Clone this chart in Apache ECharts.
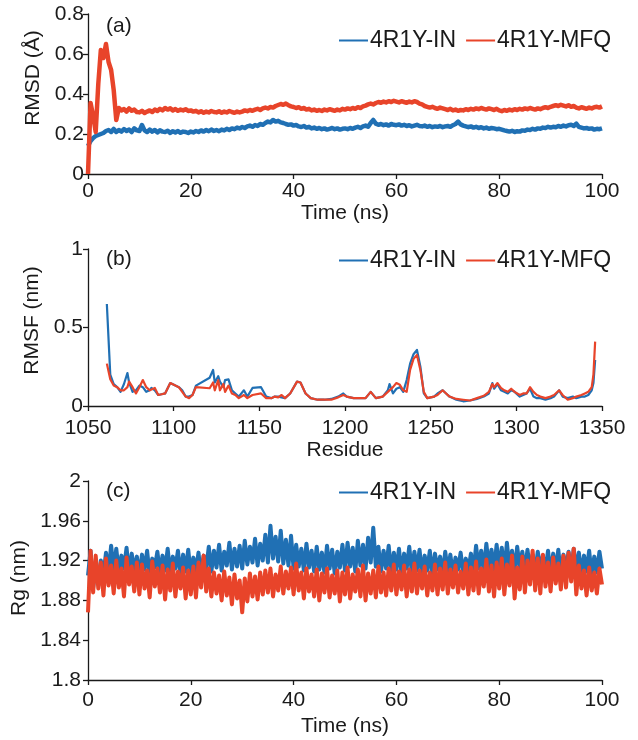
<!DOCTYPE html>
<html>
<head>
<meta charset="utf-8">
<script src="https://cdn.jsdelivr.net/npm/echarts@6/dist/echarts.min.js"></script>
<style>html,body{margin:0;padding:0;background:#fff}#c{width:638px;height:740px}</style>
</head>
<body>
<div id="c"></div>
<script>
// ---------- data ----------
const seriesNames = ['4R1Y-IN', '4R1Y-MFQ'];
const timeStep = 0.5; // ns between samples for RMSD and Rg

const rmsdIN = [
0.140,0.165,0.180,0.190,0.195,0.200,0.205,0.215,0.220,0.210,
0.225,0.210,0.220,0.212,0.225,0.215,0.222,0.210,0.228,0.218,
0.215,0.245,0.218,0.210,0.222,0.212,0.220,0.208,0.218,0.212,
0.210,0.216,0.205,0.214,0.208,0.215,0.206,0.212,0.210,0.205,
0.212,0.208,0.215,0.210,0.218,0.212,0.220,0.214,0.222,0.215,
0.220,0.214,0.222,0.218,0.226,0.220,0.228,0.224,0.232,0.228,
0.235,0.230,0.238,0.242,0.236,0.245,0.240,0.250,0.246,0.255,
0.262,0.258,0.270,0.262,0.266,0.258,0.255,0.250,0.246,0.248,
0.242,0.245,0.238,0.235,0.240,0.232,0.236,0.228,0.232,0.226,
0.230,0.224,0.228,0.222,0.226,0.230,0.224,0.228,0.222,0.226,
0.228,0.224,0.230,0.226,0.232,0.236,0.230,0.238,0.242,0.236,
0.255,0.270,0.252,0.246,0.250,0.244,0.248,0.242,0.250,0.246,
0.244,0.248,0.242,0.246,0.240,0.244,0.238,0.242,0.246,0.240,
0.238,0.242,0.236,0.240,0.234,0.238,0.236,0.240,0.234,0.238,
0.240,0.236,0.244,0.250,0.262,0.248,0.242,0.238,0.234,0.238,
0.232,0.236,0.230,0.234,0.228,0.232,0.226,0.230,0.228,0.224,
0.226,0.222,0.218,0.215,0.212,0.216,0.210,0.214,0.212,0.218,
0.216,0.222,0.220,0.226,0.222,0.228,0.226,0.232,0.230,0.236,
0.232,0.236,0.234,0.240,0.236,0.242,0.238,0.244,0.246,0.240,
0.252,0.236,0.232,0.228,0.230,0.226,0.228,0.222,0.226,0.224,
0.228];

const rmsdMFQ = [
0.000,0.355,0.290,0.210,0.450,0.620,0.580,0.650,0.560,0.520,
0.420,0.270,0.330,0.318,0.325,0.312,0.328,0.316,0.322,0.310,
0.308,0.316,0.305,0.312,0.318,0.310,0.322,0.315,0.326,0.318,
0.330,0.322,0.328,0.318,0.325,0.316,0.322,0.318,0.324,0.315,
0.318,0.312,0.316,0.308,0.314,0.306,0.312,0.308,0.315,0.310,
0.308,0.314,0.306,0.312,0.308,0.315,0.310,0.306,0.312,0.308,
0.312,0.318,0.314,0.320,0.316,0.322,0.326,0.320,0.328,0.332,
0.328,0.335,0.332,0.340,0.345,0.350,0.346,0.352,0.344,0.338,
0.335,0.330,0.334,0.326,0.330,0.322,0.326,0.318,0.322,0.316,
0.320,0.315,0.322,0.318,0.324,0.320,0.316,0.322,0.318,0.326,
0.322,0.328,0.324,0.330,0.326,0.334,0.330,0.338,0.342,0.348,
0.352,0.348,0.355,0.360,0.356,0.362,0.358,0.364,0.360,0.366,
0.362,0.358,0.364,0.360,0.356,0.362,0.358,0.364,0.360,0.352,
0.348,0.340,0.336,0.332,0.336,0.330,0.326,0.332,0.328,0.324,
0.320,0.326,0.318,0.322,0.316,0.320,0.318,0.324,0.320,0.326,
0.322,0.328,0.324,0.330,0.326,0.322,0.328,0.324,0.320,0.326,
0.318,0.314,0.320,0.316,0.322,0.318,0.324,0.320,0.326,0.322,
0.328,0.324,0.330,0.326,0.322,0.328,0.324,0.330,0.334,0.330,
0.336,0.340,0.344,0.340,0.346,0.342,0.338,0.344,0.336,0.340,
0.332,0.328,0.334,0.330,0.326,0.332,0.328,0.334,0.336,0.332,
0.338];

const residues = [
1061,1063,1065,1067,1069,1071,1073,1074,1076,1078,1080,1082,1084,1086,1087,1089,1091,1093,1095,1098,
1101,1103,1105,1107,1109,1111,1113,1121,1123,1124,1126,1127,1129,1130,1132,1134,1136,1138,1141,1143,
1146,1151,1154,1157,1159,1161,1163,1165,1168,1172,1174,1177,1180,1184,1188,1192,1196,1199,1201,1205,
1209,1212,1215,1218,1222,1225,1226,1228,1230,1232,1234,1236,1238,1240,1242,1244,1246,1248,1252,1254,
1257,1259,1261,1265,1269,1273,1277,1281,1284,1286,1287,1289,1291,1293,1295,1297,1299,1302,1304,1306,
1308,1310,1312,1314,1317,1320,1322,1325,1327,1330,1333,1335,1338,1340,1342,1344,1345,1346];

const rmsfIN = [
0.650,0.200,0.140,0.120,0.090,0.140,0.210,0.150,0.090,0.100,0.130,0.120,0.090,0.100,0.115,0.100,0.070,0.075,0.080,0.146,
0.130,0.120,0.100,0.060,0.060,0.070,0.130,0.180,0.230,0.150,0.190,0.155,0.120,0.165,0.170,0.100,0.080,0.060,0.100,0.060,
0.115,0.120,0.060,0.050,0.060,0.060,0.055,0.050,0.080,0.155,0.150,0.080,0.050,0.040,0.040,0.045,0.060,0.080,0.060,0.050,
0.050,0.050,0.090,0.050,0.060,0.100,0.140,0.080,0.110,0.120,0.090,0.165,0.270,0.330,0.357,0.250,0.080,0.050,0.060,0.080,
0.100,0.080,0.060,0.040,0.030,0.035,0.045,0.060,0.080,0.146,0.110,0.140,0.100,0.090,0.080,0.100,0.090,0.060,0.070,0.080,
0.110,0.060,0.050,0.050,0.040,0.050,0.060,0.100,0.060,0.050,0.060,0.050,0.060,0.060,0.070,0.100,0.146,0.293];

const rmsfMFQ = [
0.270,0.170,0.130,0.120,0.100,0.100,0.120,0.155,0.120,0.080,0.120,0.165,0.120,0.100,0.090,0.115,0.070,0.075,0.080,0.146,
0.130,0.120,0.090,0.060,0.050,0.070,0.120,0.113,0.150,0.100,0.165,0.100,0.140,0.090,0.130,0.080,0.070,0.050,0.070,0.050,
0.070,0.080,0.050,0.050,0.060,0.055,0.070,0.050,0.080,0.155,0.150,0.080,0.050,0.040,0.040,0.040,0.055,0.070,0.060,0.050,
0.050,0.050,0.090,0.050,0.060,0.090,0.090,0.120,0.146,0.135,0.100,0.090,0.230,0.300,0.325,0.230,0.090,0.050,0.060,0.070,
0.100,0.080,0.060,0.045,0.040,0.035,0.050,0.065,0.090,0.140,0.120,0.146,0.115,0.100,0.090,0.110,0.090,0.070,0.080,0.080,
0.120,0.090,0.070,0.060,0.050,0.060,0.070,0.100,0.070,0.040,0.050,0.060,0.070,0.080,0.090,0.120,0.200,0.410];

const rgIN = [
1.905,1.930,1.893,1.915,1.898,1.920,1.905,1.928,1.908,1.935,
1.910,1.932,1.908,1.925,1.912,1.933,1.906,1.927,1.910,1.924,
1.904,1.926,1.911,1.930,1.905,1.922,1.913,1.929,1.907,1.925,
1.910,1.932,1.906,1.924,1.912,1.930,1.905,1.926,1.909,1.931,
1.906,1.923,1.910,1.928,1.904,1.925,1.912,1.934,1.909,1.930,
1.913,1.936,1.910,1.929,1.915,1.938,1.911,1.932,1.914,1.935,
1.912,1.940,1.916,1.934,1.918,1.942,1.915,1.937,1.920,1.946,
1.918,1.955,1.922,1.944,1.919,1.950,1.917,1.941,1.915,1.945,
1.912,1.936,1.914,1.932,1.910,1.937,1.913,1.930,1.909,1.934,
1.911,1.928,1.908,1.935,1.912,1.931,1.907,1.929,1.913,1.936,
1.910,1.938,1.914,1.933,1.909,1.940,1.915,1.936,1.912,1.943,
1.918,1.953,1.914,1.934,1.909,1.930,1.912,1.935,1.907,1.928,
1.911,1.932,1.906,1.927,1.912,1.934,1.908,1.929,1.910,1.931,
1.906,1.925,1.910,1.930,1.905,1.927,1.911,1.924,1.906,1.929,
1.909,1.926,1.905,1.923,1.911,1.928,1.907,1.922,1.910,1.927,
1.908,1.935,1.912,1.930,1.909,1.937,1.913,1.931,1.910,1.936,
1.911,1.933,1.908,1.938,1.912,1.930,1.909,1.934,1.913,1.929,
1.908,1.931,1.911,1.926,1.907,1.929,1.912,1.925,1.909,1.930,
1.906,1.927,1.910,1.931,1.905,1.926,1.911,1.929,1.908,1.932,
1.910,1.928,1.906,1.925,1.909,1.930,1.905,1.924,1.908,1.929,
1.912];

const rgMFQ = [
1.868,1.930,1.888,1.925,1.892,1.918,1.885,1.922,1.895,1.915,
1.887,1.920,1.893,1.912,1.884,1.923,1.896,1.914,1.889,1.918,
1.886,1.916,1.892,1.910,1.883,1.919,1.894,1.912,1.888,1.915,
1.881,1.911,1.890,1.917,1.884,1.909,1.892,1.913,1.882,1.910,
1.886,1.914,1.883,1.918,1.893,1.925,1.889,1.912,1.884,1.908,
1.887,1.905,1.880,1.909,1.885,1.903,1.876,1.906,1.882,1.900,
1.868,1.902,1.879,1.907,1.884,1.904,1.881,1.908,1.886,1.910,
1.888,1.912,1.884,1.906,1.890,1.914,1.887,1.909,1.892,1.913,
1.886,1.917,1.890,1.908,1.882,1.912,1.889,1.906,1.884,1.911,
1.880,1.907,1.888,1.912,1.883,1.905,1.887,1.910,1.879,1.908,
1.886,1.913,1.882,1.906,1.889,1.911,1.884,1.915,1.880,1.907,
1.887,1.910,1.883,1.914,1.888,1.908,1.885,1.912,1.890,1.916,
1.886,1.909,1.891,1.915,1.884,1.911,1.889,1.917,1.887,1.910,
1.892,1.914,1.885,1.908,1.890,1.916,1.886,1.912,1.891,1.918,
1.887,1.911,1.893,1.915,1.888,1.909,1.892,1.917,1.886,1.913,
1.890,1.919,1.887,1.912,1.894,1.921,1.889,1.915,1.884,1.918,
1.892,1.922,1.886,1.916,1.895,1.925,1.882,1.913,1.891,1.924,
1.888,1.920,1.896,1.930,1.890,1.922,1.887,1.926,1.894,1.918,
1.889,1.923,1.897,1.917,1.891,1.925,1.893,1.928,1.899,1.932,
1.886,1.915,1.892,1.910,1.885,1.913,1.890,1.908,1.887,1.912,
1.896];

// ---------- chart ----------
const BLUE = '#2070b4', RED = '#e8442a';
const FONT = 'Liberation Sans, Arial, sans-serif';
const TXT = '#1a1a1a';
const timed = arr => arr.map((v, i) => [i * timeStep, v]);
const byRes = arr => arr.map((v, i) => [residues[i], v]);

const axisLine = { show: true, lineStyle: { color: '#1a1a1a', width: 1.3 } };
const axisTick = { show: true, length: 5, lineStyle: { color: '#1a1a1a', width: 1.3 } };
const lbl = (margin, fmt) => ({ color: TXT, fontFamily: FONT, fontSize: 21, margin: margin, formatter: fmt });
const nameStyle = (pad) => ({ color: TXT, fontFamily: FONT, fontSize: 21, padding: pad || 0 });
const plain = v => String(v);

const grids = [
  { left: 88, width: 514, top: 14, height: 160 },
  { left: 88, width: 514, top: 249, height: 157 },
  { left: 88, width: 514, top: 481, height: 199 }
];

const xAxes = [
  { gridIndex: 0, type: 'value', min: 0, max: 100, interval: 20, name: 'Time (ns)', nameLocation: 'middle', nameGap: 26,
    axisLine, axisTick, axisLabel: lbl(7, plain), splitLine: { show: false }, nameTextStyle: nameStyle() },
  { gridIndex: 1, type: 'value', min: 1050, max: 1350, interval: 50, name: 'Residue', nameLocation: 'middle', nameGap: 34,
    axisLine, axisTick, axisLabel: lbl(12, plain), splitLine: { show: false }, nameTextStyle: nameStyle() },
  { gridIndex: 2, type: 'value', min: 0, max: 100, interval: 20, name: 'Time (ns)', nameLocation: 'middle', nameGap: 36,
    axisLine, axisTick, axisLabel: lbl(10, plain), splitLine: { show: false }, nameTextStyle: nameStyle() }
];

const yAxes = [
  { gridIndex: 0, type: 'value', min: 0, max: 0.8, interval: 0.2, name: 'RMSD (Å)', nameLocation: 'middle', nameGap: 43,
    axisLine, axisTick, axisLabel: lbl(4, v => String(+v.toFixed(1))), splitLine: { show: false }, nameTextStyle: nameStyle([0, 0, 0, 32]) },
  { gridIndex: 1, type: 'value', min: 0, max: 1, interval: 0.5, name: 'RMSF (nm)', nameLocation: 'middle', nameGap: 43,
    axisLine, axisTick, axisLabel: lbl(5, v => String(+v.toFixed(1))), splitLine: { show: false }, nameTextStyle: nameStyle([0, 0, 0, 14]) },
  { gridIndex: 2, type: 'value', min: 1.8, max: 2, interval: 0.04, name: 'Rg (nm)', nameLocation: 'middle', nameGap: 50,
    axisLine, axisTick, axisLabel: lbl(7, v => String(+v.toFixed(2))), splitLine: { show: false }, nameTextStyle: nameStyle([0, 0, 0, 5]) }
];

const line = (name, idx, data, color, width) => ({
  name, type: 'line', xAxisIndex: idx, yAxisIndex: idx, data, showSymbol: false, symbol: 'none',
  animation: false, lineStyle: { color, width, join: 'round' }, itemStyle: { color }
});

const legendAt = top => ({
  data: seriesNames, left: 334, top, icon: 'rect', itemWidth: 29, itemHeight: 2, itemGap: 10,
  textStyle: { color: TXT, fontFamily: FONT, fontSize: 23, padding: [0, 0, 0, -3] }, selectedMode: false
});

const titleAt = (text, top) => ({ text, left: 101, top, textStyle: { color: TXT, fontFamily: FONT, fontSize: 21, fontWeight: 'normal' } });

const chart = echarts.init(document.getElementById('c'), null, { renderer: 'canvas' });
chart.setOption({
  backgroundColor: '#fff',
  animation: false,
  title: [titleAt('(a)', 11), titleAt('(b)', 244), titleAt('(c)', 476)],
  legend: [legendAt(24), legendAt(244), legendAt(476)],
  grid: grids,
  xAxis: xAxes,
  yAxis: yAxes,
  series: [
    line(seriesNames[0], 0, timed(rmsdIN), BLUE, 4.5),
    line(seriesNames[1], 0, timed(rmsdMFQ), RED, 4.5),
    line(seriesNames[0], 1, byRes(rmsfIN), BLUE, 2.2),
    line(seriesNames[1], 1, byRes(rmsfMFQ), RED, 2.2),
    line(seriesNames[0], 2, timed(rgIN), BLUE, 4),
    line(seriesNames[1], 2, timed(rgMFQ), RED, 4)
  ]
});
</script>
</body>
</html>
